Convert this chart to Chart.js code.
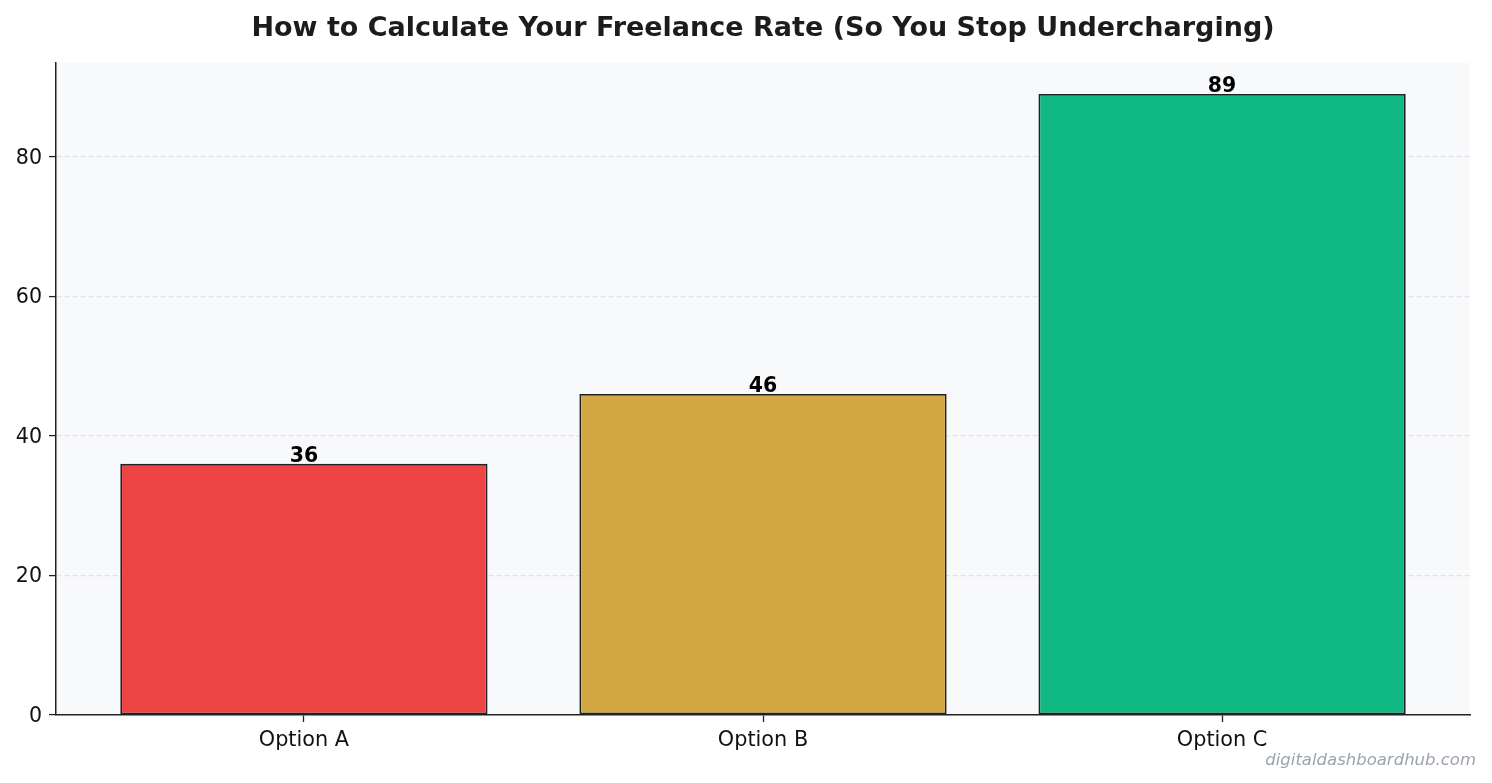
<!DOCTYPE html>
<html>
<head>
<meta charset="utf-8">
<script src="https://cdn.jsdelivr.net/npm/chart.js@4.4.1/dist/chart.umd.min.js"></script>
<style>
  body { margin: 0; background: #ffffff; }
  #wrap { width: 1492px; height: 783px; position: relative; }
</style>
</head>
<body>
<div id="wrap"><canvas id="rate"></canvas></div>
<script>
const categories = ["Option A", "Option B", "Option C"];
const values = [36, 46, 89];
const barColors = ["#ef4444", "#d3a843", "#10b981"];
const yTicks = [0, 20, 40, 60, 80];

const FONT = "'DejaVu Sans', sans-serif";

// light panel behind the plot area
const plotBackground = {
  id: "plotBackground",
  beforeDraw(chart) {
    const { ctx, chartArea: a } = chart;
    ctx.save();
    ctx.fillStyle = "#f8f9fb";
    ctx.fillRect(a.left, a.top, a.right - a.left, a.bottom - a.top);
    ctx.restore();
  }
};

// value on top of every bar
const barValues = {
  id: "barValues",
  afterDatasetsDraw(chart) {
    const { ctx } = chart;
    const meta = chart.getDatasetMeta(0);
    ctx.save();
    ctx.font = "bold 20.5px " + FONT;
    ctx.fillStyle = "#000000";
    ctx.textAlign = "center";
    ctx.textBaseline = "alphabetic";
    meta.data.forEach((bar, i) => {
      ctx.fillText(String(values[i]), bar.x, bar.y - 2);
    });
    ctx.restore();
  }
};

// site name, bottom right
const watermark = {
  id: "watermark",
  afterDraw(chart) {
    const { ctx } = chart;
    ctx.save();
    ctx.font = "italic 16.5px " + FONT;
    ctx.fillStyle = "#9ca3af";
    ctx.textAlign = "right";
    ctx.textBaseline = "alphabetic";
    ctx.fillText("digitaldashboardhub.com", 1476, 765);
    ctx.restore();
  }
};

const ctx = document.getElementById("rate");

new Chart(ctx, {
  type: "bar",
  plugins: [plotBackground, barValues, watermark],
  data: {
    datasets: [{
      data: values.map((v, i) => ({ x: i, y: v })),
      backgroundColor: barColors,
      borderColor: "#1f2328",
      borderWidth: 1.8,
      borderSkipped: false,
      categoryPercentage: 1,
      barPercentage: 0.8
    }]
  },
  options: {
    responsive: true,
    maintainAspectRatio: false,
    animation: false,
    layout: { padding: { left: 0, right: 22, top: 0, bottom: 0 } },
    plugins: {
      legend: { display: false },
      tooltip: { enabled: false },
      title: {
        display: true,
        fullSize: false,
        text: "How to Calculate Your Freelance Rate (So You Stop Undercharging)",
        color: "#1c1c1c",
        font: { family: FONT, size: 27, weight: "bold" },
        padding: { top: 12.5, bottom: 18.1 }
      }
    },
    scales: {
      x: {
        type: "linear",
        offset: false,
        min: -0.54,
        max: 2.54,
        afterBuildTicks(scale) {
          scale.ticks = categories.map((c, i) => ({ value: i }));
        },
        afterFit(scale) { scale.height = 68; },
        ticks: {
          color: "#111111",
          font: { family: FONT, size: 20.8 },
          padding: 6,
          maxRotation: 0,
          callback: (v) => categories[v]
        },
        grid: {
          offset: false,
          drawOnChartArea: false,
          drawTicks: true,
          tickLength: 7,
          tickColor: "#222222",
          tickWidth: 1.3
        },
        border: { display: true, color: "#222222", width: 1.5 }
      },
      y: {
        min: 0,
        max: 93.45,
        afterBuildTicks(scale) {
          scale.ticks = yTicks.map((v) => ({ value: v }));
        },
        afterFit(scale) { scale.width = 56; },
        ticks: {
          color: "#111111",
          font: { family: FONT, size: 20.6 },
          padding: 7,
          labelOffset: 1.5
        },
        grid: {
          color: (c) => (c.tick && c.tick.value === 0 ? "rgba(0,0,0,0)" : "#e1e3e7"),
          lineWidth: 1.2,
          tickLength: 7,
          tickColor: "#222222",
          tickWidth: 1.3,
          tickBorderDash: []
        },
        border: { display: true, color: "#222222", width: 1.5, dash: [5, 3] }
      }
    }
  }
});
</script>
</body>
</html>
